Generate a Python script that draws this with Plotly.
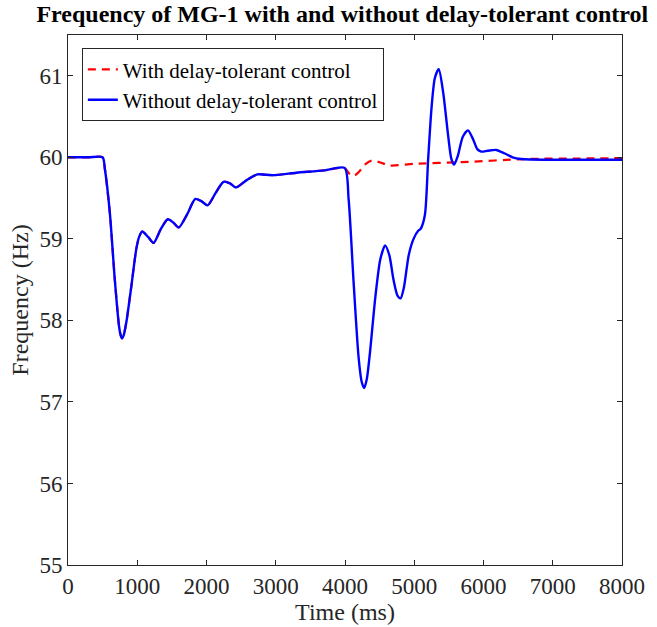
import plotly.graph_objects as go

# Time (ms) and frequency (Hz)
t_common = [0, 300, 500, 532, 603, 675, 737, 760, 780, 805, 843, 880, 915, 987, 1030, 1073, 1160, 1236,
            1340, 1441, 1520, 1600, 1720, 1839, 1930, 2016, 2130, 2246, 2340, 2424,
            2580, 2735, 2950, 3300, 3700, 3994]
f_common = [60.0, 60.0, 60.0, 59.86, 59.33, 58.51, 57.93, 57.82, 57.78, 57.82, 57.98, 58.2, 58.42, 58.88, 59.03, 59.09, 59.02, 58.95,
            59.12, 59.24, 59.2, 59.14, 59.3, 59.49, 59.46, 59.41, 59.56, 59.70, 59.68, 59.63,
            59.72, 59.79, 59.78, 59.81, 59.84, 59.87]

t_blue_after = [4052, 4124, 4195, 4240, 4277, 4315, 4360, 4440, 4510, 4579, 4640, 4700, 4760, 4803, 4850, 4920, 4990, 5057, 5090,
                5153, 5201, 5249, 5297, 5354, 5417, 5489, 5536, 5575, 5630, 5700, 5776, 5850,
                5910, 5967, 6060, 6183, 6300, 6420, 6542, 7000, 7500, 8000]
f_blue_after = [59.49, 58.47, 57.56, 57.25, 57.17, 57.28, 57.6, 58.3, 58.75, 58.92, 58.8, 58.5, 58.3, 58.27, 58.4, 58.8, 59.0, 59.10, 59.12,
                59.29, 59.98, 60.6, 60.97, 61.08, 60.8, 60.27, 59.98, 59.91, 60.02, 60.25, 60.33, 60.22,
                60.1, 60.07, 60.08, 60.09, 60.05, 60.0, 59.98, 59.97, 59.97, 59.97]

t_red_after = [4060, 4124, 4200, 4300, 4387, 4500, 4650, 5000, 5676, 6638, 7400, 8000]
f_red_after = [59.8, 59.77, 59.82, 59.92, 59.96, 59.94, 59.90, 59.92, 59.94, 59.98, 59.985, 59.99]

t_blue = t_common + t_blue_after
f_blue = f_common + f_blue_after
t_red = t_common + t_red_after
f_red = f_common + f_red_after

serif = "Liberation Serif"

fig = go.Figure()
fig.add_trace(go.Scatter(x=t_red, y=f_red, mode="lines", name="With delay-tolerant control",
                         line=dict(color="#ff0000", width=2.2, dash="8px,6px", shape="spline", smoothing=0.7)))
fig.add_trace(go.Scatter(x=t_blue, y=f_blue, mode="lines", name="Without delay-tolerant control",
                         line=dict(color="#0000ff", width=2.4, shape="spline", smoothing=0.7)))

axis_common = dict(showgrid=False, zeroline=False, showline=True, linecolor="#262626", linewidth=1,
                   mirror="ticks", ticks="inside", ticklen=5, tickcolor="#262626",
                   tickfont=dict(family=serif, size=23, color="#262626"))

fig.update_layout(
    width=657, height=627,
    margin=dict(l=68, r=32, t=35, b=62),
    paper_bgcolor="white", plot_bgcolor="white",
    font=dict(family=serif, size=21, color="#262626"),
    title=dict(text="<b>Frequency of MG-1 with and without delay-tolerant control</b>",
               font=dict(family=serif, size=24, color="black"),
               x=0.521, xanchor="center", y=0.992, yanchor="top"),
    xaxis=dict(range=[0, 8000], tickvals=[0, 1000, 2000, 3000, 4000, 5000, 6000, 7000, 8000],
               title=dict(text="Time (ms)", font=dict(family=serif, size=24, color="#262626"), standoff=0),
               **axis_common),
    yaxis=dict(range=[55, 61.5], tickvals=[55, 56, 57, 58, 59, 60, 61],
               title=dict(text="Frequency (Hz)", font=dict(family=serif, size=24, color="#262626"), standoff=4),
               **axis_common),
    legend=dict(x=0.025, y=0.975, xanchor="left", yanchor="top",
                bgcolor="white", bordercolor="#262626", borderwidth=1,
                font=dict(family=serif, size=21, color="black"),
                tracegroupgap=0),
    showlegend=True,
)

fig.write_html("out.html")
